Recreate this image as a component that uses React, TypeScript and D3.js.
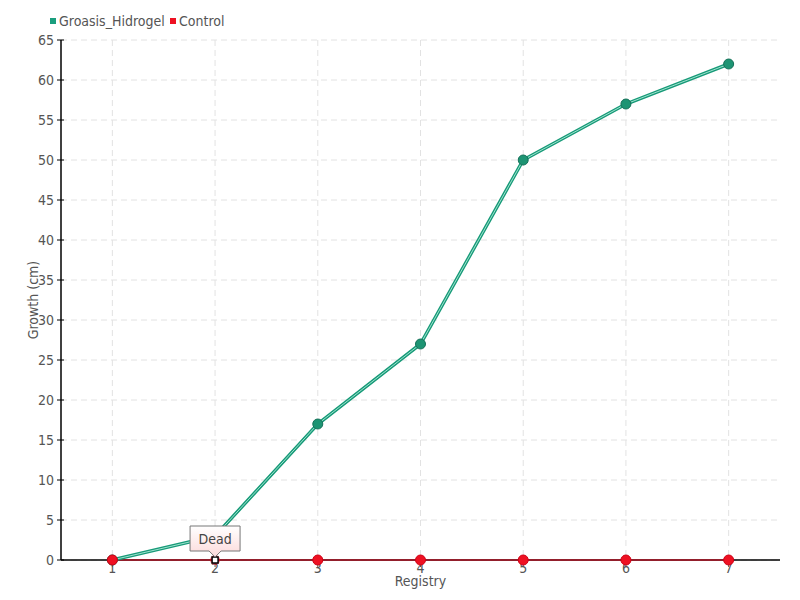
import React from "react";
import * as d3 from "d3";

const categories = ["1", "2", "3", "4", "5", "6", "7"];
const groasis = [0, 3, 17, 27, 50, 57, 62];
const control = [0, 0, 0, 0, 0, 0, 0];
const yTicks = d3.range(0, 66, 5);
const seriesNames = ["Groasis_Hidrogel", "Control"];
const seriesColors = ["#1a9e7e", "#ee1122"];

export default function App() {
  const W = 800, H = 600;
  const left = 61, right = 780, top = 40, bottom = 560;
  const x = d3.scalePoint<string>().domain(categories).range([left, right]).padding(0.5);
  const y = d3.scaleLinear().domain([0, 65]).range([bottom, top]);
  const line = d3.line<number>().x((_, i) => x(categories[i])!).y((d) => y(d));
  const font = "'DejaVu Sans Condensed', 'DejaVu Sans', sans-serif";
  const tipX = x(categories[1])!;
  const tipY = y(control[1]);
  return (
    <svg width={W} height={H} style={{ position: "absolute", left: 0, top: 0 }} fontFamily={font}>
      <defs>
        <linearGradient id="tipg" x1="0" y1="0" x2="0" y2="1">
          <stop offset="0" stopColor="#ffffff" />
          <stop offset="1" stopColor="#fcd9d9" />
        </linearGradient>
      </defs>
      <rect width={W} height={H} fill="#fff" />
      {/* grid */}
      {yTicks.map((t) => (
        <line key={"gy" + t} x1={left} x2={right} y1={y(t)} y2={y(t)} stroke="#e2e2e2" strokeDasharray="6,4" />
      ))}
      {categories.map((c) => (
        <line key={"gx" + c} x1={x(c)} x2={x(c)} y1={top} y2={bottom} stroke="#e2e2e2" strokeDasharray="6,4" />
      ))}
      {/* axes */}
      <line x1={left} x2={left} y1={top} y2={bottom} stroke="#000" strokeWidth={1.5} />
      <line x1={left} x2={right} y1={bottom} y2={bottom} stroke="#000" strokeWidth={1.5} />
      {yTicks.map((t) => (
        <g key={"yt" + t}>
          <line x1={left - 4} x2={left + 3} y1={y(t)} y2={y(t)} stroke="#000" />
          <text x={left - 7} y={y(t)} dy="0.35em" textAnchor="end" fontSize={14} fill="#555">{t}</text>
        </g>
      ))}
      {categories.map((c) => (
        <g key={"xt" + c}>
          <line x1={x(c)} x2={x(c)} y1={bottom} y2={bottom + 7} stroke="#555" />
          <text x={x(c)} y={bottom + 13} textAnchor="middle" fontSize={14} fill="#555">{c}</text>
        </g>
      ))}
      <text x={(left + right) / 2} y={bottom + 26} textAnchor="middle" fontSize={14} fill="#555">Registry</text>
      <text transform={`translate(38,${(top + bottom) / 2}) rotate(-90)`} textAnchor="middle" fontSize={14} fill="#555">Growth (cm)</text>
      {/* control line */}
      <path d={line(control)!} fill="none" stroke="#e8001a" strokeWidth={1.2} />
      {/* groasis line */}
      <path d={line(groasis)!} fill="none" stroke="#179a78" strokeWidth={3.5} />
      <path d={line(groasis)!} fill="none" stroke="#9fe3cf" strokeWidth={1} />
      {groasis.map((v, i) => (
        <circle key={"gp" + i} cx={x(categories[i])} cy={y(v)} r={5} fill="#1d9473" stroke="#157058" strokeWidth={1} />
      ))}
      {control.map((v, i) =>
        i === 1 ? null : (
          <circle key={"cp" + i} cx={x(categories[i])} cy={y(v)} r={5} fill="#ee1122" stroke="#d00015" strokeWidth={1} />
        )
      )}
      {/* hovered point */}
      <circle cx={tipX} cy={tipY} r={5} fill="#ee1122" opacity={0.6} />
      <rect x={tipX - 3} y={tipY - 3} width={6} height={6} fill="#fff" stroke="#000" strokeWidth={1.5} />
      {/* tooltip */}
      <path
        d={`M${tipX - 25},${tipY - 34} H${tipX + 25} V${tipY - 9} H${tipX + 6} L${tipX},${tipY - 3} L${tipX - 6},${tipY - 9} H${tipX - 25} Z`}
        fill="url(#tipg)"
        stroke="#777"
        strokeWidth={1}
      />
      <text x={tipX} y={tipY - 21} dy="0.35em" textAnchor="middle" fontSize={14} fill="#444">Dead</text>
      {/* legend */}
      {seriesNames.map((s, i) => {
        const lx = i === 0 ? 50 : 170;
        return (
          <g key={"lg" + s}>
            <rect x={lx} y={18} width={6} height={6} fill={seriesColors[i]} />
            <text x={lx + 9} y={21} dy="0.35em" fontSize={14} fill="#555">{s}</text>
          </g>
        );
      })}
    </svg>
  );
}
